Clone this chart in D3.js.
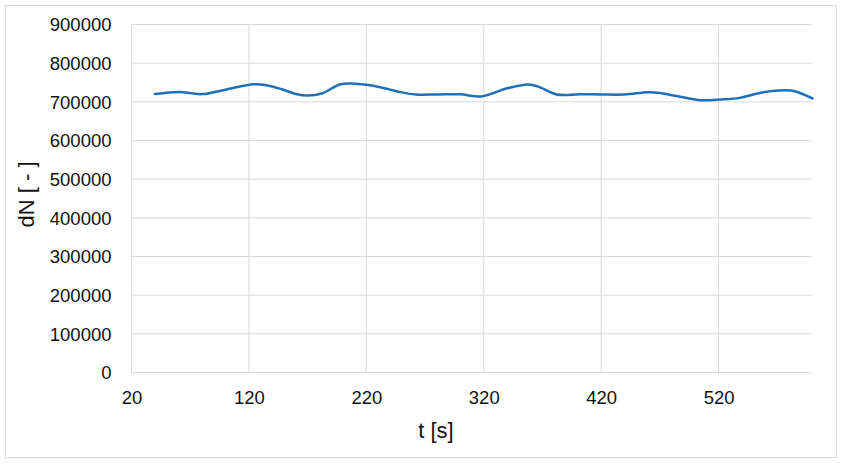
<!DOCTYPE html>
<html>
<head>
<meta charset="utf-8">
<script src="https://cdn.jsdelivr.net/npm/d3@7"></script>
<style>
  body { margin: 0; background: #fff; }
  svg text { font-family: "Liberation Sans", Arial, sans-serif; fill: #111; }
</style>
</head>
<body>
<svg id="chart" width="844" height="465"></svg>
<script>
// time [s] and dN values
const tValues = [40, 60, 80, 100, 124, 136, 148, 160, 170, 182, 198, 210, 222, 238, 250, 262, 280, 300, 318, 340,
  358, 366, 382, 402, 420, 440, 460, 470, 485, 504, 522, 538, 558, 576, 585, 600];
const dnValues = [720000, 725500, 720000, 731500, 745500, 742500, 732500, 720500, 716500, 721500,
  745500, 747000, 743500, 733500, 724500, 719000, 719000, 719500, 714000, 735000,
  744800, 740000, 719000, 719700, 719000, 719000, 724900, 723000, 714600, 704300,
  706000, 710200, 724900, 730100, 727500, 708700];
const xTicks = [20, 120, 220, 320, 420, 520];
const yTicks = [0, 100000, 200000, 300000, 400000, 500000, 600000, 700000, 800000, 900000];

const data = tValues.map((t, i) => ({ t: t, v: dnValues[i] }));

const svg = d3.select("#chart");
const margin = { left: 131.5, right: 812.5, top: 24.5, bottom: 372.5 };

// outer chart frame
svg.append("rect")
  .attr("x", 5.5).attr("y", 5.5)
  .attr("width", 831).attr("height", 452)
  .attr("fill", "#fff")
  .attr("stroke", "#d9d9d9");

const x = d3.scaleLinear().domain([20, 600]).range([margin.left, margin.right]);
const y = d3.scaleLinear().domain([0, 900000]).range([margin.bottom, margin.top]);

// gridlines
svg.append("g").attr("class", "ygrid")
  .selectAll("line").data(yTicks).enter()
  .append("line")
  .attr("x1", margin.left).attr("x2", margin.right)
  .attr("y1", d => y(d)).attr("y2", d => y(d))
  .attr("stroke", "#d9d9d9").attr("stroke-width", 1);

svg.append("g").attr("class", "xgrid")
  .selectAll("line").data(xTicks).enter()
  .append("line")
  .attr("x1", d => x(d)).attr("x2", d => x(d))
  .attr("y1", margin.top).attr("y2", margin.bottom)
  .attr("stroke", "#d9d9d9").attr("stroke-width", 1);

// axes (labels only, Excel style)
const yAxis = svg.append("g")
  .attr("transform", "translate(" + (margin.left - 20) + ",0)")
  .call(d3.axisLeft(y).tickValues(yTicks).tickFormat(d3.format("d")).tickSize(0).tickPadding(0));
yAxis.select(".domain").remove();
yAxis.selectAll("text").attr("font-size", "18.5px").attr("dy", "0.35em");

const xAxis = svg.append("g")
  .attr("transform", "translate(0," + (margin.bottom + 20) + ")")
  .call(d3.axisBottom(x).tickValues(xTicks).tickFormat(d3.format("d")).tickSize(0).tickPadding(0));
xAxis.select(".domain").remove();
xAxis.selectAll("text").attr("font-size", "18.5px").attr("dy", "0.6em");

// the series
const line = d3.line()
  .x(d => x(d.t))
  .y(d => y(d.v))
  .curve(d3.curveCatmullRom.alpha(0.5));

svg.append("path")
  .datum(data)
  .attr("fill", "none")
  .attr("stroke", "#1f70b8")
  .attr("stroke-width", 2.5)
  .attr("stroke-linecap", "round")
  .attr("d", line);

// axis titles
svg.append("text")
  .attr("x", 436).attr("y", 438)
  .attr("text-anchor", "middle")
  .attr("font-size", "22px")
  .text("t [s]");

svg.append("text")
  .attr("transform", "translate(34," + ((margin.top + margin.bottom) / 2 - 4) + ") rotate(-90)")
  .attr("text-anchor", "middle")
  .attr("font-size", "22px")
  .text("dN [ - ]");
</script>
</body>
</html>
